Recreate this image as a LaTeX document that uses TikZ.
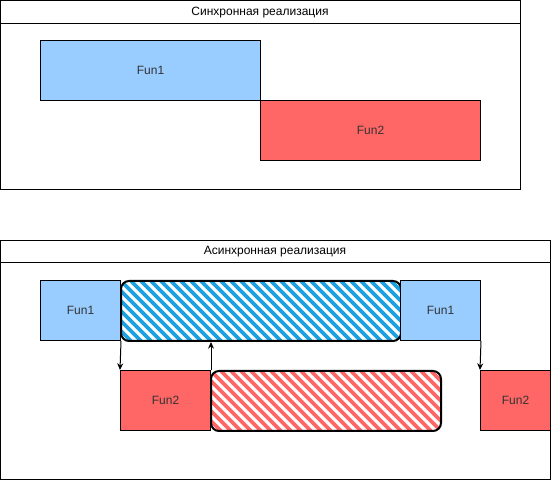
\documentclass[tikz,border=0pt]{standalone}
\usepackage{fontspec}
\setmainfont{Liberation Sans}
\usetikzlibrary{arrows.meta}
\definecolor{funblue}{HTML}{99CCFF}
\definecolor{funred}{HTML}{FF6666}
\definecolor{hatchblue}{HTML}{1BA1E2}
\definecolor{txtgray}{HTML}{333333}
\tikzset{
  lbl/.style={font=\fontsize{9}{11}\selectfont},
  box/.style={draw,line width=0.75pt,inner sep=0pt,anchor=north west,minimum height=45pt,lbl,text=txtgray},
  hatch/.style={draw,line width=1.5pt,rounded corners=6pt,inner sep=0pt,anchor=north west,minimum height=45pt,
    path picture={\foreach \k in {-7,...,30}
      \draw[#1,line width=2.9pt] ([xshift=\k*7.5pt]path picture bounding box.north west) -- ++(45pt,-45pt);}},
  arr/.style={line width=0.75pt,-{Stealth[length=5pt,width=4.5pt]}}
}
\begin{document}
\begin{tikzpicture}[x=0.75pt,y=-0.75pt]
    \useasboundingbox (0,0) rectangle (551,481);
    % synchronous
    \draw[line width=0.75pt] (0.5,0.5) rectangle (520,190);
    \draw[line width=0.75pt] (0.5,24) -- (520,24);
    \node[lbl] (title1) at (260,12.5) {Синхронная реализация};
    \node[box,fill=funblue,minimum width=165pt] (fun1) at (40,40) {Fun1};
    \node[box,fill=funred,minimum width=165pt] (fun2) at (260,100) {Fun2};
    % asynchronous
    \draw[line width=0.75pt] (0.5,240.5) rectangle (550,480);
    \draw[line width=0.75pt] (0.5,262.5) -- (550,262.5);
    \node[lbl] (title2) at (275,251.5) {Асинхронная реализация};
    \node[box,fill=funblue,minimum width=60pt] (afun1a) at (40,280) {Fun1};
    \node[hatch=hatchblue,minimum width=210pt] (waitblue) at (120,280) {};
    \node[box,fill=funblue,minimum width=60pt] (afun1b) at (400,280) {Fun1};
    \node[box,fill=funred,minimum width=67.5pt] (afun2a) at (120,370) {Fun2};
    \node[hatch=funred,minimum width=172.5pt] (waitred) at (210,370) {};
    \node[box,fill=funred,minimum width=52.5pt] (afun2b) at (480,370) {Fun2};
    \draw[arr] (afun1a.south east) -- (afun2a.north west);
    \draw[arr] (afun2a.north east) -- (afun2a.north east |- waitblue.south);
    \draw[arr] (afun1b.south east) -- (afun2b.north west);
\end{tikzpicture}
\end{document}
